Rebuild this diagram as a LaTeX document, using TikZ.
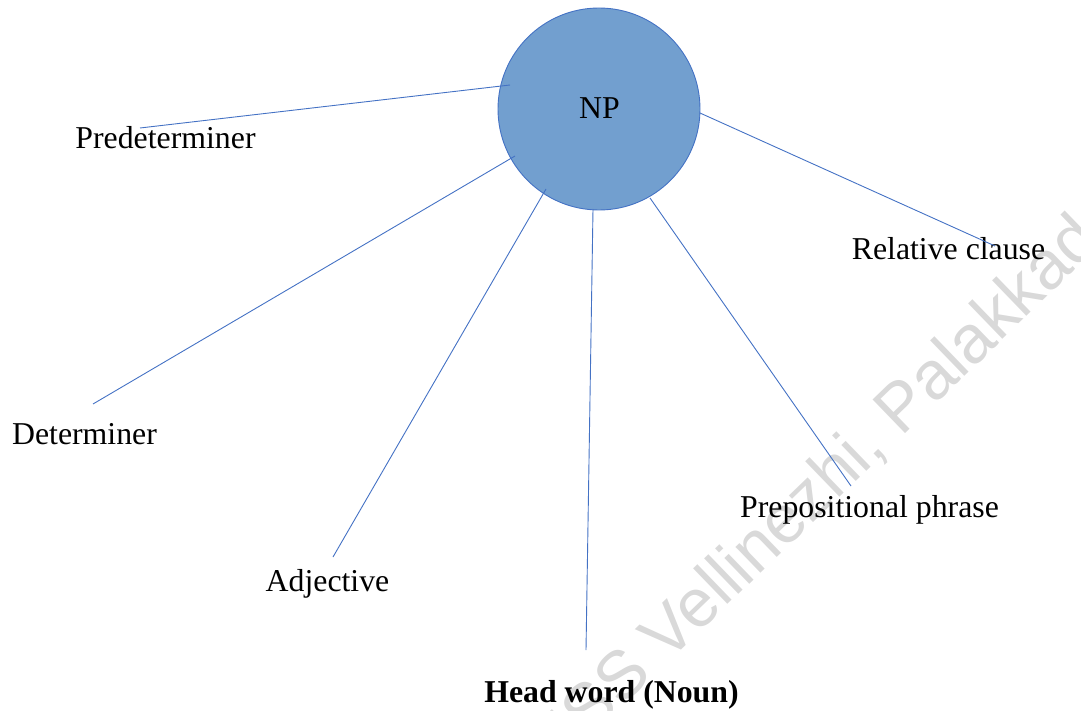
\documentclass[tikz,border=0pt]{standalone}
\usepackage{fontspec}
\setmainfont{Liberation Serif}
\newfontfamily\markfont{Liberation Sans}
\definecolor{npfill}{RGB}{114,159,207}
\definecolor{npline}{RGB}{68,114,196}
\begin{document}
\begin{tikzpicture}[x=1pt,y=-1pt,font=\fontsize{31.8}{38}\selectfont,
    word/.style={anchor=base,inner sep=0pt},
    link/.style={npline,line width=0.9pt}]
\useasboundingbox (0,0) rectangle (1081,711);

% watermark
\node[rotate=44,text=black!15,font=\markfont\fontsize{68}{80}\selectfont] (mark) at (795,512) {GHSS Vellinezhi, Palakkad};

\node[circle,draw=npline,fill=npfill,line width=0.9pt,minimum size=202pt,inner sep=0pt] (np) at (599,109) {};
\node[word] (nptext) at (599.5,119) {NP};

\node[word] (pre)  at (165.5,149) {Predeterminer};
\node[word] (det)  at (84.5,444)  {Determiner};
\node[word] (adj)  at (327.5,591) {Adjective};
\node[word] (head) at (611.5,702) {\bfseries Head word (Noun)};
\node[word] (prep) at (869.5,517) {Prepositional phrase};
\node[word] (rel)  at (948.5,260) {Relative clause};

\coordinate (pre-a)  at (510,85);  \coordinate (pre-b)  at (140,128);
\coordinate (det-a)  at (515,156); \coordinate (det-b)  at (93,404);
\coordinate (adj-a)  at (546,189); \coordinate (adj-b)  at (333,557);
\coordinate (head-a) at (593,209); \coordinate (head-b) at (586,650);
\coordinate (prep-a) at (650,198); \coordinate (prep-b) at (851,486);
\coordinate (rel-a)  at (700,113); \coordinate (rel-b)  at (995,246);

\foreach \n in {pre,det,adj,head,prep,rel}
{
    \draw[link] (\n-a)--(\n-b);
}

\end{tikzpicture}
\end{document}
